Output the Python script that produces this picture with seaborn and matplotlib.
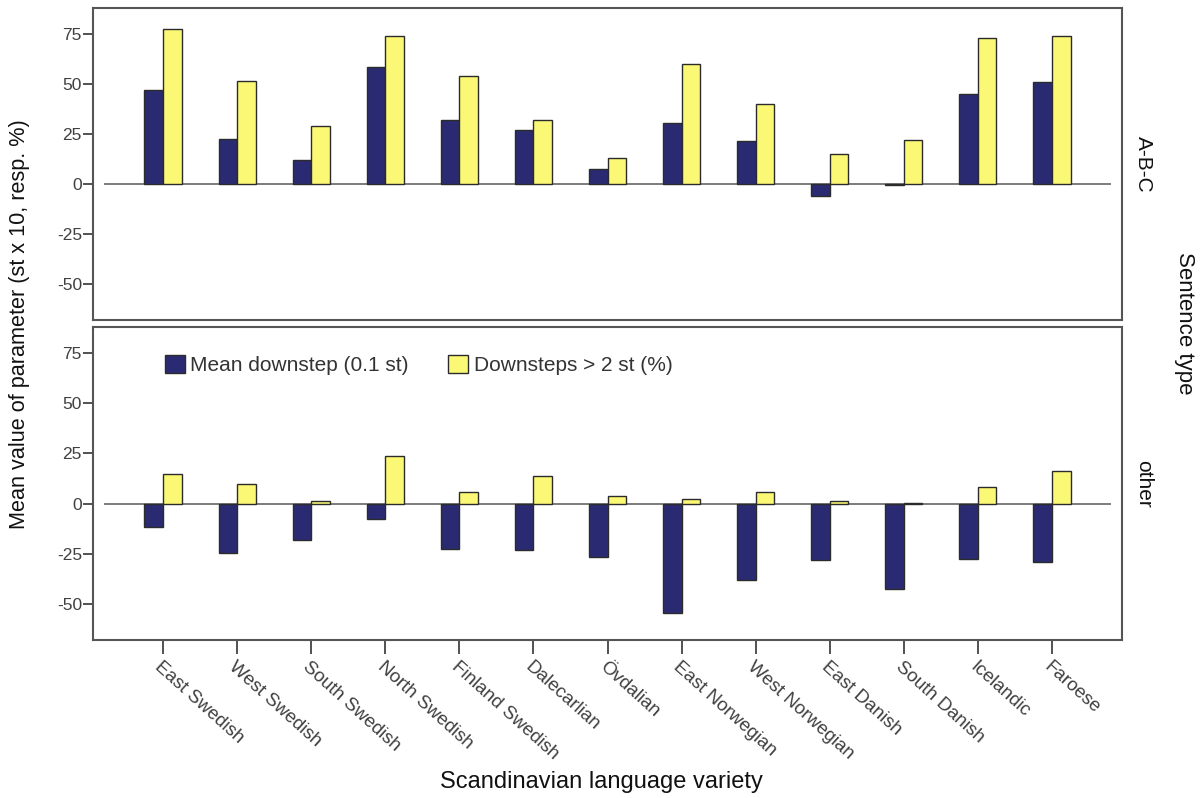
import numpy as np
import pandas as pd
import matplotlib
matplotlib.use("Agg")
import matplotlib.pyplot as plt
import seaborn as sns
from matplotlib.patches import Patch

varieties = ["East Swedish", "West Swedish", "South Swedish", "North Swedish",
             "Finland Swedish", "Dalecarlian", "Övdalian", "East Norwegian",
             "West Norwegian", "East Danish", "South Danish", "Icelandic", "Faroese"]
series_names = ["Mean downstep (0.1 st)", "Downsteps > 2 st (%)"]
panels = ["A-B-C", "other"]

abc_mean = [47.0, 22.3, 12.0, 58.6, 31.9, 27.2, 7.5, 30.6, 21.3, -5.8, -0.4, 45.2, 51.2]
abc_pct = [77.7, 51.7, 28.9, 73.9, 53.8, 31.9, 13.0, 60.0, 39.9, 14.8, 21.8, 72.8, 73.9]
other_mean = [-11.6, -24.8, -18.0, -7.7, -22.7, -23.2, -26.6, -54.3, -38.2, -28.1, -42.4, -27.4, -28.9]
other_pct = [14.8, 9.8, 1.2, 23.7, 5.8, 13.7, 4.0, 2.3, 6.0, 1.2, 0.3, 8.1, 16.4]

yticks = [-50, -25, 0, 25, 50, 75]

rows = []
for panel, m, p in [(panels[0], abc_mean, abc_pct), (panels[1], other_mean, other_pct)]:
    for v, a, b in zip(varieties, m, p):
        rows.append(dict(panel=panel, variety=v, series=series_names[0], value=a))
        rows.append(dict(panel=panel, variety=v, series=series_names[1], value=b))
df = pd.DataFrame(rows)

sns.set_theme(style="white")
plt.rcParams["font.family"] = ["Liberation Sans", "DejaVu Sans"]

navy = "#2a2a72"
yellow = "#fbf875"
palette = {series_names[0]: navy, series_names[1]: yellow}

fig = plt.figure(figsize=(12.02, 7.98), dpi=100)
left, right = 93 / 1202, 1122 / 1202
ax_top = fig.add_axes([left, 1 - 320 / 798, right - left, (320 - 8) / 798])
ax_bot = fig.add_axes([left, 1 - 640 / 798, right - left, (640 - 327) / 798])

for ax, panel in [(ax_top, panels[0]), (ax_bot, panels[1])]:
    sub = df[df.panel == panel]
    sns.barplot(data=sub, x="variety", y="value", hue="series", order=varieties,
                hue_order=series_names, palette=palette, width=0.5,
                edgecolor="#2b2b2b", linewidth=1.0, ax=ax, legend=False,
                errorbar=None, saturation=1)
    ax.hlines(0, -0.8, len(varieties) - 0.2, color="#666666", linewidth=1.2, zorder=0.5)
    ax.set_xlim(-0.945, len(varieties) - 1 + 0.945)
    ax.set_ylim(-68, 88)
    ax.set_yticks(yticks)
    ax.set_yticklabels([str(t) for t in yticks], fontsize=12.5, color="#404040")
    ax.tick_params(axis="y", direction="out", length=7, width=1.2, color="#333333",
                   left=True, pad=1)
    ax.set_xlabel("")
    ax.set_ylabel("")
    for s in ax.spines.values():
        s.set_color("#555555")
        s.set_linewidth(1.5)
    ax.text(1.012, 0.5, panel, transform=ax.transAxes, rotation=-90,
            ha="left", va="center", fontsize=15, color="#111111")

ax_top.set_xticks([])
ax_bot.set_xticks(range(len(varieties)))
ax_bot.set_xticklabels(varieties, rotation=-42, ha="left", va="top",
                       rotation_mode="anchor", fontsize=13.5, color="#404040")
ax_bot.tick_params(axis="x", direction="out", length=10, width=1.2, color="#333333",
                   bottom=True, pad=3)

handles = [Patch(facecolor=navy, edgecolor="#2b2b2b", linewidth=1.0),
           Patch(facecolor=yellow, edgecolor="#2b2b2b", linewidth=1.0)]
leg = ax_bot.legend(handles, series_names, loc="upper left",
                    bbox_to_anchor=(0.070, 0.91), ncol=2, frameon=False,
                    fontsize=15, handlelength=0.96, handleheight=0.96,
                    handletextpad=0.25, columnspacing=1.9, borderaxespad=0,
                    borderpad=0)
for t in leg.get_texts():
    t.set_color("#333333")

fig.text(20 / 1202, 1 - 324 / 798, "Mean value of parameter (st x 10, resp. %)",
         rotation=90, ha="center", va="center", fontsize=15.6, color="#111111")
fig.text(601 / 1202, 1 - 782 / 798, "Scandinavian language variety",
         ha="center", va="center", fontsize=17, color="#111111")
fig.text(1185 / 1202, 1 - 323 / 798, "Sentence type", rotation=-90,
         ha="center", va="center", fontsize=16, color="#111111")

fig.savefig("out.png", dpi=100)
